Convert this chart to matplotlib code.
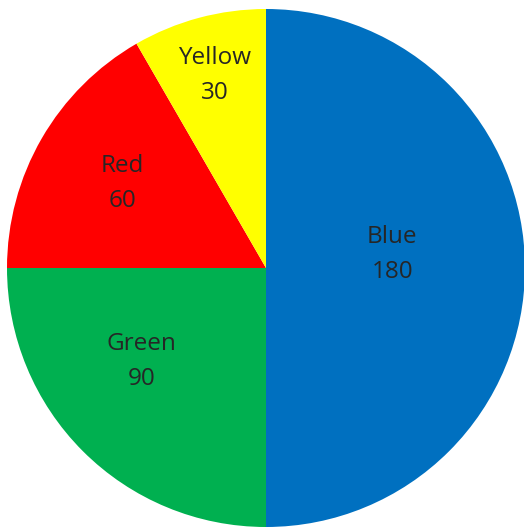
import numpy as np
import matplotlib.pyplot as plt

# Dane wykresu
labels = ["Blue", "Green", "Red", "Yellow"]
values = [180, 90, 60, 30]
colors = ["#0070C0", "#00B050", "#FF0000", "#FFFF00"]
label_r = [0.49, 0.60, 0.645, 0.77]     # odleglosc etykiet od srodka
label_dang = [6, -8, -0.5, 0]           # przesuniecie katowe etykiet (stopnie)

fig = plt.figure(figsize=(5.24, 5.27), dpi=100)
ax = fig.add_axes([0, 0, 1, 1])

wedges, _ = ax.pie(values, colors=colors, startangle=90, counterclock=False,
                   radius=1, center=(0, 0))

for w, lab, val, r, da in zip(wedges, labels, values, label_r, label_dang):
    ang = np.deg2rad((w.theta1 + w.theta2) / 2 + da)
    ax.text(r * np.cos(ang), r * np.sin(ang), f"{lab}\n{val}",
            ha="center", va="center", fontsize=17.5, color="#262626",
            family="Open Sans", linespacing=1.6)

ax.set_xlim(-266 / 259, (524 - 266) / 259)
ax.set_ylim((268 - 527) / 259, 268 / 259)
ax.set_aspect("equal")
ax.axis("off")

fig.savefig("out.png", dpi=100)
